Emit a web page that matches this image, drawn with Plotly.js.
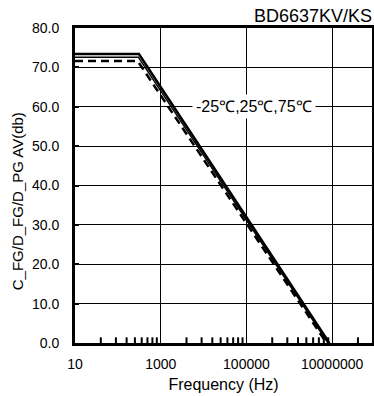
<!DOCTYPE html>
<html>
<head>
<meta charset="utf-8">
<script src="https://cdn.plot.ly/plotly-3.0.1.min.js"></script>
<style>html,body{margin:0;padding:0;background:#fff;}#chart{width:374px;height:396px;}</style>
</head>
<body>
<div id="chart"></div>
<script>
// Frequency (Hz) and gain (dB)
var freqA = [10, 310, 8600000];
var gainA = [73.4, 73.4, 0];
var freqB = [10, 300, 8000000];
var gainB = [72.6, 72.6, 0];
var freqC = [10, 290, 7400000];
var gainC = [71.6, 71.6, 0];

var xTickVals = [10, 1000, 100000, 10000000];
var xTickText = ["10", "1000", "100000", "10000000"];
var xMinorVals = [40, 90, 160, 250, 360, 490, 640, 810,
  4000, 9000, 16000, 25000, 36000, 49000, 64000, 81000,
  400000, 900000, 1600000, 2500000, 3600000, 4900000, 6400000, 8100000,
  40000000];
var yTickVals = [0, 10, 20, 30, 40, 50, 60, 70, 80];

var fam = "Liberation Sans, Arial, sans-serif";

var traces = [
  {x: freqC, y: gainC, mode: "lines", line: {color: "#000", width: 2.5, dash: "8px,5px"}, showlegend: false},
  {x: freqB, y: gainB, mode: "lines", line: {color: "#000", width: 1.5}, showlegend: false},
  {x: freqA, y: gainA, mode: "lines", line: {color: "#000", width: 2.5}, showlegend: false}
];

var shapes = xMinorVals.map(function (v) {
  return {type: "line", xref: "x", yref: "paper", x0: v, x1: v, y0: 0, y1: 0.018,
          line: {color: "#000", width: 2}};
});

var layout = {
  width: 374, height: 396,
  margin: {l: 75, r: 2, t: 28, b: 53},
  paper_bgcolor: "#fff", plot_bgcolor: "#fff",
  font: {family: fam, size: 14, color: "#000"},
  xaxis: {
    type: "log", range: [1, 7.93],
    tickmode: "array", tickvals: xTickVals, ticktext: xTickText,
    ticks: "inside", ticklen: 4, tickwidth: 1, tickcolor: "#000",
    showgrid: true, gridcolor: "#000", gridwidth: 1,
    showline: true, linecolor: "#000", linewidth: 3, mirror: true,
    zeroline: false,
    ticklabelstandoff: 6,
    tickfont: {family: fam, size: 14, color: "#000"},
    title: {text: "Frequency (Hz)", font: {family: fam, size: 16, color: "#000"}, standoff: 9}
  },
  yaxis: {
    range: [0, 80],
    tickmode: "array", tickvals: yTickVals, tickformat: ".1f",
    ticks: "inside", ticklen: 4, tickwidth: 2, tickcolor: "#000",
    showgrid: true, gridcolor: "#000", gridwidth: 1,
    showline: true, linecolor: "#000", linewidth: 3, mirror: true,
    zeroline: false,
    ticklabelstandoff: 10,
    tickfont: {family: fam, size: 14, color: "#000"}
  },
  shapes: shapes,
  annotations: [
    {xref: "paper", yref: "paper", x: 1, y: 1, xanchor: "right", yanchor: "bottom", yshift: 0, xshift: 2,
     text: "BD6637KV/KS", showarrow: false, font: {family: fam, size: 18, color: "#000"}},
    {xref: "x", yref: "y", x: Math.log10(xTickVals[2]), y: 60, xanchor: "center", yanchor: "middle", xshift: 8,
     text: "-25℃,25℃,75℃", showarrow: false, bgcolor: "#fff", borderpad: 3,
     font: {family: fam, size: 16, color: "#000"}},
    {xref: "paper", yref: "paper", x: 0, y: 0.45, xanchor: "center", yanchor: "middle", xshift: -58,
     textangle: -90, text: "C_FG/D_FG/D_PG AV(db)", showarrow: false,
     font: {family: fam, size: 15, color: "#000"}}
  ]
};

Plotly.newPlot("chart", traces, layout, {displayModeBar: false, staticPlot: true});
</script>
</body>
</html>
